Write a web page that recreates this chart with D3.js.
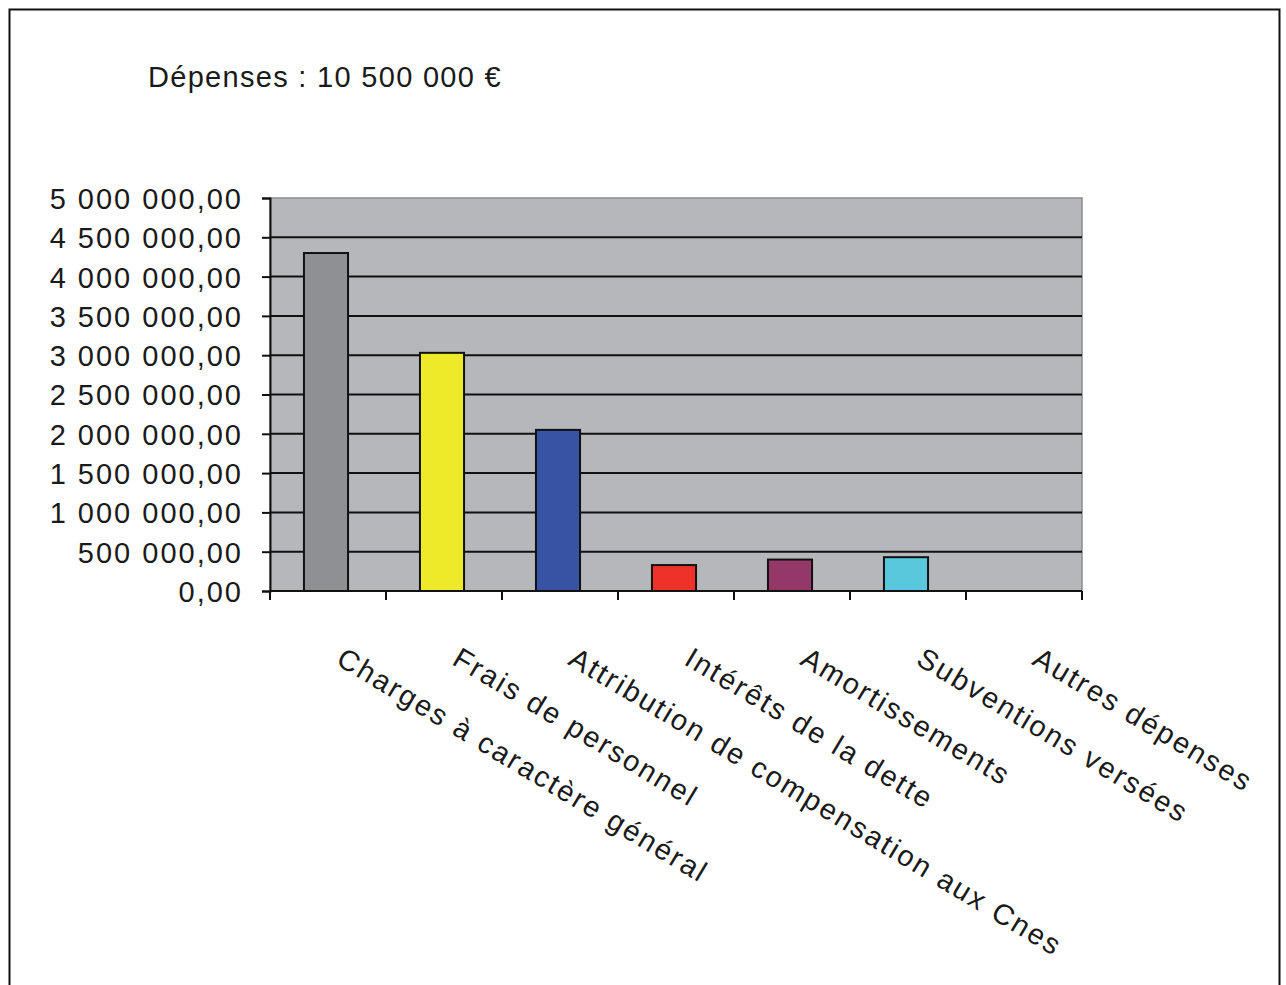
<!DOCTYPE html>
<html>
<head>
<meta charset="utf-8">
<script src="https://cdn.jsdelivr.net/npm/d3@7"></script>
<style>
  body { margin: 0; background: #fff; }
  text { font-family: "Liberation Sans", Arial, sans-serif; fill: #1a1a1a; }
</style>
</head>
<body>
<script>
// data
const categories = [
  "Charges à caractère général",
  "Frais de personnel",
  "Attribution de compensation aux Cnes",
  "Intérêts de la dette",
  "Amortissements",
  "Subventions versées",
  "Autres dépenses"
];
const values = [4300000, 3030000, 2050000, 330000, 400000, 430000, 0];
const barColors = ["#8e9094", "#eeea2a", "#3852a4", "#ee3129", "#94386a", "#5ac8dc", "#b6b7ba"];
const yTicks = [0, 500000, 1000000, 1500000, 2000000, 2500000, 3000000, 3500000, 4000000, 4500000, 5000000];
const title = "Dépenses : 10 500 000 €";

const W = 1286, H = 985;
const margin = { top: 198, right: 204, bottom: 394, left: 270 };
const width = W - margin.left - margin.right,
  height = H - margin.top - margin.bottom;

const root = d3.select("body").append("svg")
  .attr("width", W)
  .attr("height", H);

// outer frame (no bottom edge, cut off in the picture)
root.append("path")
  .attr("d", `M9.5,${H} V9.5 H1279.5 V${H}`)
  .attr("fill", "none")
  .attr("stroke", "#111")
  .attr("stroke-width", 2);

root.append("text")
  .attr("x", 148)
  .attr("y", 87)
  .attr("font-size", 29)
  .attr("letter-spacing", 1.3)
  .text(title);

const svg = root.append("g")
  .attr("transform", `translate(${margin.left}, ${margin.top})`);

const x = d3.scaleBand().domain(categories).range([0, width]).paddingInner(0).paddingOuter(0);
const y = d3.scaleLinear().domain([0, 5000000]).range([height, 0]);

// plot background
svg.append("rect")
  .attr("width", width)
  .attr("height", height)
  .attr("fill", "#b6b7ba")
  .attr("stroke", "#8a8b8e")
  .attr("stroke-width", 1.5);

// gridlines
svg.append("g")
  .selectAll("line")
  .data(yTicks.filter(d => d > 0 && d < 5000000))
  .enter().append("line")
    .attr("x1", 0)
    .attr("x2", width)
    .attr("y1", d => y(d))
    .attr("y2", d => y(d))
    .attr("stroke", "#111")
    .attr("stroke-width", 2);

// bars
const bw = x.bandwidth() * 0.38;
svg.selectAll(".bar")
  .data(values)
  .enter().append("rect")
    .attr("class", "bar")
    .attr("x", (d, i) => x(categories[i]) + x.bandwidth() / 2 - bw / 2 - 2)
    .attr("y", d => y(d))
    .attr("width", bw)
    .attr("height", d => height - y(d))
    .attr("fill", (d, i) => barColors[i])
    .attr("stroke", d => d > 0 ? "#111" : "none")
    .attr("stroke-width", 2);

// y axis
const yAxis = svg.append("g")
  .call(d3.axisLeft(y)
    .tickValues(yTicks)
    .tickSize(8)
    .tickFormat(d => d3.format(",.2f")(d).replace(/,/g, " ").replace(".", ",")));
yAxis.select(".domain").attr("stroke", "#111").attr("stroke-width", 2);
yAxis.selectAll(".tick line").attr("stroke", "#111").attr("stroke-width", 2);
yAxis.selectAll(".tick text")
  .attr("x", -27)
  .attr("dy", "0.36em")
  .attr("font-size", 29)
  .attr("letter-spacing", 2)
  .attr("fill", "#1a1a1a");

// x axis: ticks at category boundaries
const boundaries = categories.map(c => x(c)).concat([width]);
svg.append("line")
  .attr("x1", 0).attr("x2", width)
  .attr("y1", height).attr("y2", height)
  .attr("stroke", "#111").attr("stroke-width", 2);
svg.append("g")
  .selectAll("line")
  .data(boundaries)
  .enter().append("line")
    .attr("x1", d => d).attr("x2", d => d)
    .attr("y1", height).attr("y2", height + 9)
    .attr("stroke", "#111").attr("stroke-width", 2);

// rotated category labels
svg.append("g")
  .selectAll("text")
  .data(categories)
  .enter().append("text")
    .attr("transform", d => `translate(${x(d) + x.bandwidth() / 2 + 18}, ${height + 54}) rotate(31)`)
    .attr("dy", "0.75em")
    .attr("font-size", 29)
    .attr("letter-spacing", 2.2)
    .text(d => d);
</script>
</body>
</html>
